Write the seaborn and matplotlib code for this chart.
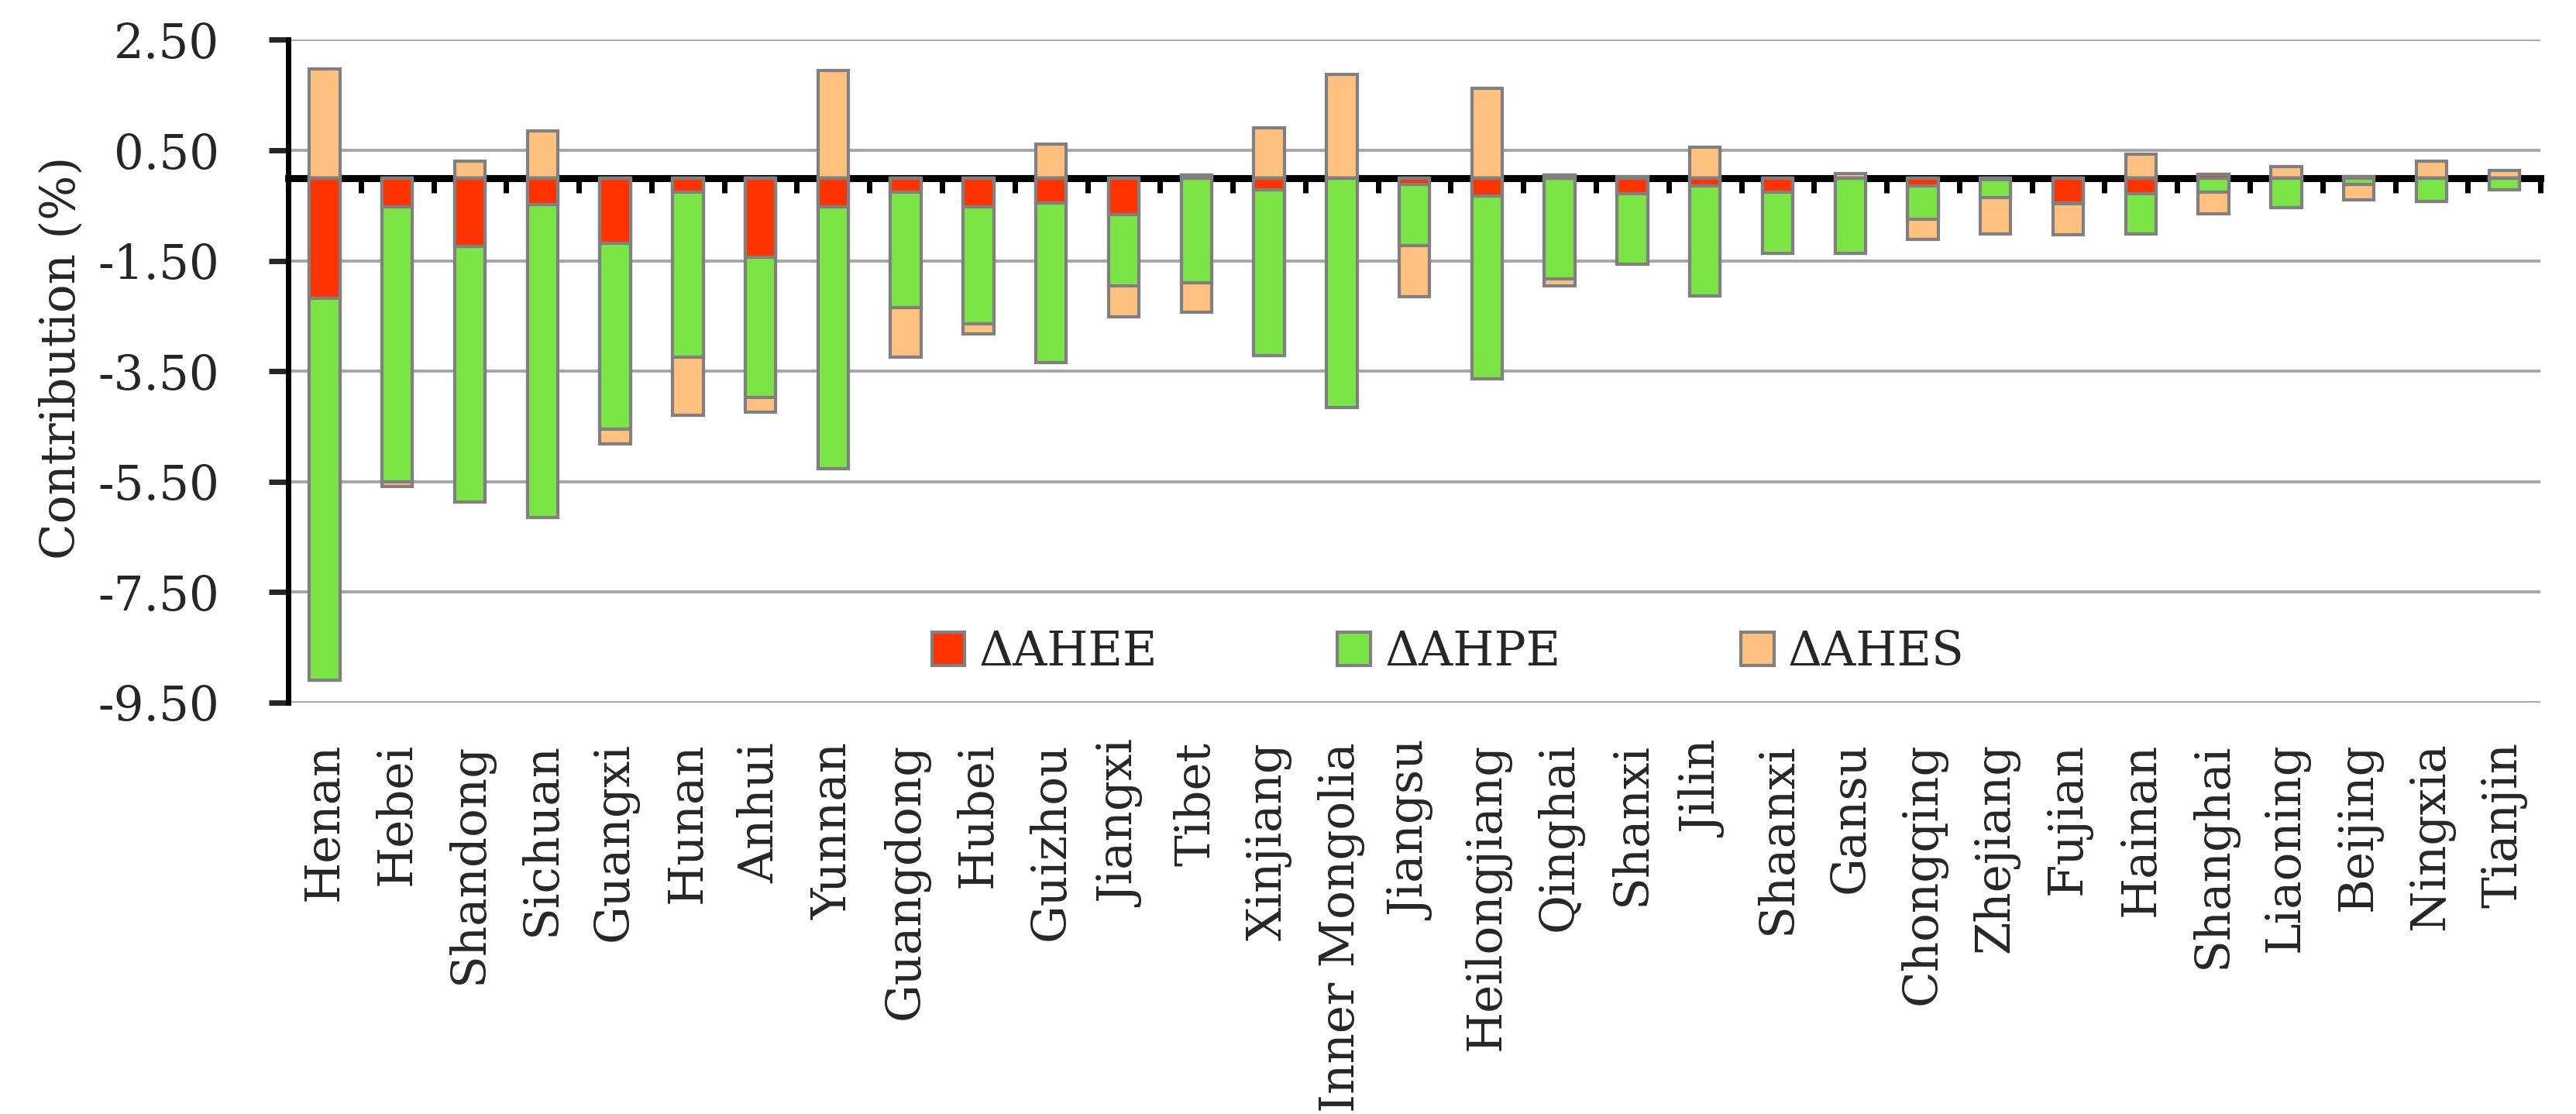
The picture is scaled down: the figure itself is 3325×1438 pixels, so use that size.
import numpy as np
import pandas as pd
import seaborn as sns
import matplotlib.pyplot as plt
from matplotlib.patches import Patch

provinces = ["Henan", "Hebei", "Shandong", "Sichuan", "Guangxi", "Hunan", "Anhui",
             "Yunnan", "Guangdong", "Hubei", "Guizhou", "Jiangxi", "Tibet", "Xinjiang",
             "Inner Mongolia", "Jiangsu", "Heilongjiang", "Qinghai", "Shanxi", "Jilin",
             "Shaanxi", "Gansu", "Chongqing", "Zhejiang", "Fujian", "Hainan", "Shanghai",
             "Liaoning", "Beijing", "Ningxia", "Tianjin"]

ahee = [-2.18, -0.52, -1.24, -0.48, -1.18, -0.26, -1.44, -0.52, -0.25, -0.52, -0.45,
        -0.67, 0.05, -0.21, 0.0, -0.12, -0.32, 0.05, -0.28, -0.14, -0.25, 0.0, -0.14,
        -0.03, -0.45, -0.29, 0.06, 0.0, 0.03, 0.0, 0.0]
ahpe = [-6.92, -4.98, -4.63, -5.67, -3.37, -2.99, -2.54, -4.75, -2.10, -2.12, -2.89,
        -1.29, -1.90, -3.01, -4.15, -1.10, -3.32, -1.83, -1.28, -1.99, -1.12, -1.37,
        -0.61, -0.32, -0.02, -0.72, -0.25, -0.54, -0.12, -0.43, -0.21]
ahes = [1.97, -0.09, 0.30, 0.85, -0.26, -1.05, -0.26, 1.94, -0.89, -0.19, 0.62,
        -0.56, -0.53, 0.91, 1.88, -0.93, 1.63, -0.13, 0.03, 0.56, 0.0, 0.08, -0.36,
        -0.66, -0.56, 0.43, -0.40, 0.20, -0.27, 0.30, 0.14]

series = ["ΔAHEE", "ΔAHPE", "ΔAHES"]
colors = ["#FF3300", "#7AE544", "#FFC080"]
yticks = [2.5, 0.5, -1.5, -3.5, -5.5, -7.5, -9.5]

df = pd.DataFrame({"province": provinces, "ΔAHEE": ahee, "ΔAHPE": ahpe, "ΔAHES": ahes})

# excel-style stacking: positives up from 0, negatives down from 0
vals = df[series].to_numpy()
pos_cum = np.cumsum(np.clip(vals, 0, None), axis=1)
neg_cum = np.cumsum(np.clip(vals, None, 0), axis=1)

sns.set_style("white")
plt.rcParams["font.family"] = ["DejaVu Serif"]

fig, ax = plt.subplots(figsize=(33.25, 14.38), dpi=100)
fig.subplots_adjust(left=0.1119, right=0.9862, top=0.9642, bottom=0.3693)

# draw deepest layer first, then overlay the shorter cumulative bars
for k in [2, 1, 0]:
    for cum in (pos_cum, neg_cum):
        sns.barplot(x=df["province"], y=cum[:, k], order=provinces, color=colors[k],
                    saturation=1, width=0.42, edgecolor="#808080", linewidth=3.0,
                    errorbar=None, ax=ax, zorder=3)

ax.set_xlim(-0.5, len(provinces) - 0.5)
ax.set_ylim(-9.5, 2.5)
ax.set_yticks(yticks)
ax.set_yticklabels([f"{v:.2f}" for v in yticks])
ax.yaxis.grid(True, color="#A6A6A6", linewidth=2.8, zorder=0)
ax.set_axisbelow(True)

for s in ["top", "right", "bottom"]:
    ax.spines[s].set_visible(False)
ax.spines["left"].set_linewidth(5)
ax.spines["left"].set_color("black")

ax.tick_params(axis="y", direction="out", length=18, width=5, pad=46,
               labelsize=44, left=True)
ax.tick_params(axis="x", length=0, pad=37, labelsize=44)
ax.set_xticks(range(len(provinces)))
ax.set_xticklabels(provinces, rotation=90, va="top", ha="center")
ax.set_xlabel("")
ax.set_ylabel("Contribution (%)", fontsize=44)
ax.yaxis.set_label_coords(-0.0905, 0.52)

# zero axis line with category boundary ticks
sec = ax.secondary_xaxis(9.5 / 12)
sec.spines["top"].set_linewidth(6.5)
sec.spines["top"].set_color("black")
sec.set_xticks(np.arange(-0.5, len(provinces), 1.0))
sec.set_xticklabels([])
sec.tick_params(axis="x", direction="in", length=14, width=5, color="black")

handles = [Patch(facecolor=c, edgecolor="#808080", linewidth=3, label=n)
           for n, c in zip(series, colors)]
ax.legend(handles=handles, loc="center", bbox_to_anchor=(0.515, 0.076), ncol=3,
          frameon=False, fontsize=44, handlelength=0.7, handleheight=0.7,
          handletextpad=0.3, columnspacing=3.8)

fig.savefig("out.png", dpi=100)
